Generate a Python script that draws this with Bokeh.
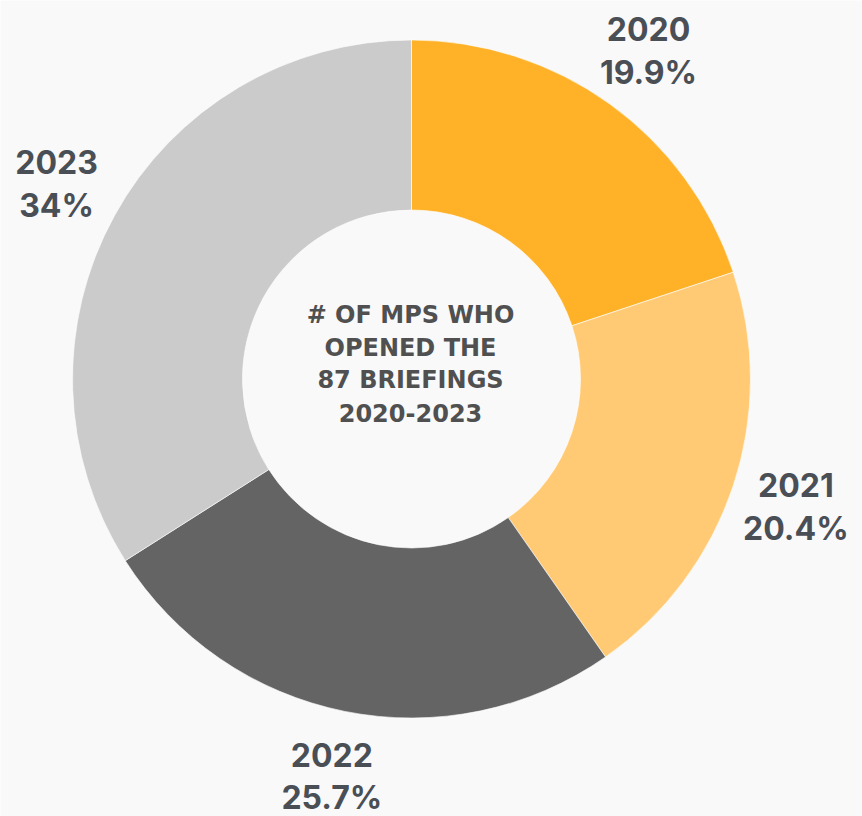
import math
from bokeh.plotting import figure
from bokeh.models import Range1d, ColumnDataSource
from bokeh.core.properties import value
from bokeh.embed import file_html
from bokeh.resources import INLINE

# ---- data ----
years = ["2020", "2021", "2022", "2023"]
shares = [19.9, 20.4, 25.7, 34.0]
pct_labels = ["19.9%", "20.4%", "25.7%", "34%"]
colors = ["#FFB127", "#FFCA73", "#646464", "#CBCBCB"]
center_lines = ["# OF MPS WHO", "OPENED THE", "87 BRIEFINGS", "2020-2023"]

W, H = 862, 816
BG = "#f9f9f9"
p = figure(width=W, height=H, x_range=Range1d(0, W), y_range=Range1d(0, H),
           output_backend="svg", toolbar_location=None, min_border=0)
p.axis.visible = False
p.grid.visible = False
p.outline_line_color = None
p.background_fill_color = BG
p.border_fill_color = BG

cx, cy = 411, H - 378.5
r_in, r_out, r_lab = 169, 339, 405

total = sum(shares)
cum = 0
starts, ends, lx, ly = [], [], [], []
for s in shares:
    a0 = math.pi / 2 - 2 * math.pi * (cum + s) / total
    a1 = math.pi / 2 - 2 * math.pi * cum / total
    m = (a0 + a1) / 2
    starts.append(a0)
    ends.append(a1)
    lx.append(cx + r_lab * math.cos(m))
    ly.append(cy + r_lab * math.sin(m))
    cum += s

src = ColumnDataSource(dict(start=starts, end=ends, color=colors))
p.annular_wedge(x=cx, y=cy, inner_radius=r_in, outer_radius=r_out,
                start_angle="start", end_angle="end", fill_color="color",
                line_color="white", line_width=1, line_alpha=0.6, source=src)

lab_color = "#4a4f56"
lsrc = ColumnDataSource(dict(x=lx, y1=[v + 21.5 for v in ly], y2=[v - 21.5 for v in ly],
                             year=years, pct=pct_labels))
for ycol, tcol in (("y1", "year"), ("y2", "pct")):
    p.text(x="x", y=ycol, text=tcol, source=lsrc, text_font=value("Inter"),
           text_font_style="bold", text_font_size="32px", text_color=lab_color,
           text_align="center", text_baseline="middle")

cy_text = cy + 15
offs = [48.75, 16.25, -16.25, -48.75]
csrc = ColumnDataSource(dict(x=[cx - 1] * 4, y=[cy_text + o for o in offs], t=center_lines))
p.text(x="x", y="y", text="t", source=csrc, text_font=value("DejaVu Sans"),
       text_font_style="bold", text_font_size="24px", text_color="#505050",
       text_align="center", text_baseline="middle")

html = file_html(p, INLINE)
html = html.replace("<body>", '<body style="background-color:#f9f9f9;">', 1)
open("out.html", "w").write(html)
